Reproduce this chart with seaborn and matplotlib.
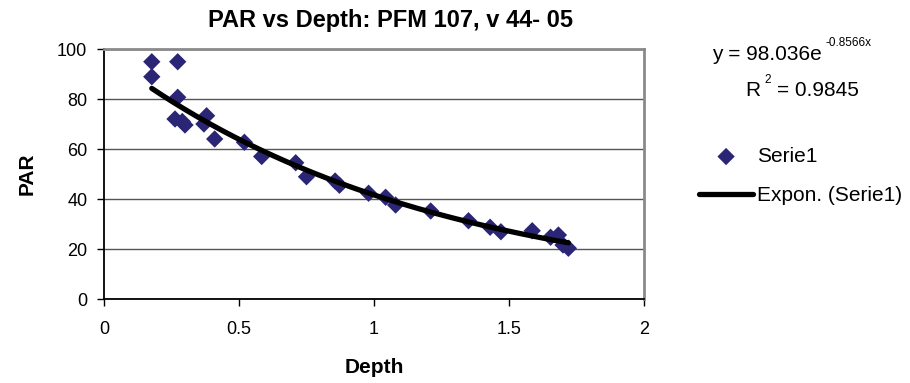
import matplotlib
matplotlib.use("Agg")
import matplotlib.pyplot as plt
import seaborn as sns
import numpy as np
import pandas as pd

# ---- data ----
depth = [0.177, 0.177, 0.273, 0.273, 0.263, 0.29, 0.30, 0.37, 0.38, 0.41,
         0.52, 0.584, 0.71, 0.75, 0.856, 0.872, 0.98, 1.043, 1.08, 1.21,
         1.35, 1.43, 1.47, 1.586, 1.654, 1.683, 1.70, 1.72]
par = [94.9, 88.9, 94.9, 80.7, 72.0, 71.0, 69.6, 70.0, 73.3, 64.0,
       62.7, 57.0, 54.5, 48.9, 47.2, 45.5, 42.3, 40.7, 37.6, 35.2,
       31.3, 28.7, 26.9, 27.3, 24.7, 25.6, 21.6, 20.3]
fit_a = 98.036
fit_b = -0.8566
r2 = 0.9845
x_ticks = [0, 0.5, 1, 1.5, 2]
x_tick_labels = ["0", "0.5", "1", "1.5", "2"]
y_ticks = [0, 20, 40, 60, 80, 100]
title = "PAR vs Depth: PFM 107, v 44- 05"
series_label = "Serie1"
trend_label = "Expon. (Serie1)"

sns.set_style("white")
plt.rcParams["font.family"] = ["Liberation Sans", "DejaVu Sans"]
plt.rcParams["text.color"] = "black"
plt.rcParams["axes.labelcolor"] = "black"
plt.rcParams["xtick.color"] = "black"
plt.rcParams["ytick.color"] = "black"

W, H = 910, 383
fig = plt.figure(figsize=(W / 100, H / 100), dpi=100)
ax = fig.add_axes([104 / W, 1 - 299 / H, (644 - 104) / W, (299 - 49) / H])

df = pd.DataFrame({"Depth": depth, "PAR": par})
xs = np.linspace(min(depth), max(depth), 200)
trend = pd.DataFrame({"Depth": xs, "PAR": fit_a * np.exp(fit_b * xs)})

navy = "#2b2575"
sns.scatterplot(data=df, x="Depth", y="PAR", marker="D", s=78, color=navy,
                edgecolor="none", label=series_label, ax=ax, zorder=3)
sns.lineplot(data=trend, x="Depth", y="PAR", color="black", linewidth=3.8,
             label=trend_label, ax=ax, zorder=4)

ax.set_xlim(0, 2)
ax.set_ylim(0, 100)
ax.set_xticks(x_ticks)
ax.set_xticklabels(x_tick_labels)
ax.set_yticks(y_ticks)
ax.yaxis.grid(True, color="#555555", linewidth=1.0)
ax.xaxis.grid(False)
ax.set_axisbelow(True)

for side in ["left", "bottom"]:
    ax.spines[side].set_color("black")
    ax.spines[side].set_linewidth(1.3)
for side in ["top", "right"]:
    ax.spines[side].set_visible(True)
    ax.spines[side].set_color("#8a8a8a")
    ax.spines[side].set_linewidth(2.0)

ax.tick_params(axis="both", direction="out", length=5, width=1, color="black",
               labelsize=13, labelcolor="black", left=True, bottom=True)
ax.tick_params(axis="y", pad=7)
ax.tick_params(axis="x", pad=11)

ax.set_xlabel("Depth", fontsize=15, fontweight="bold", labelpad=14, color="black")
ax.set_ylabel("PAR", fontsize=15, fontweight="bold", labelpad=15, color="black")

fig.text(390 / W, 1 - 21 / H, title, fontsize=17, fontweight="bold",
         ha="center", va="center", color="black")

# equation and R^2
fig.text(712 / W, 1 - 54 / H, f"y = {fit_a}e", fontsize=15, ha="left", va="center")
fig.text(826 / W, 1 - 43 / H, f"{fit_b}x", fontsize=8.5, ha="left", va="center")
fig.text(745 / W, 1 - 91 / H, "R", fontsize=15, ha="left", va="center")
fig.text(764 / W, 1 - 80 / H, "2", fontsize=8.5, ha="left", va="center")
fig.text(777 / W, 1 - 91 / H, f"= {r2}", fontsize=15, ha="left", va="center")

leg = ax.legend(loc="upper left", bbox_to_anchor=(699 / W, 1 - 147 / H),
                bbox_transform=fig.transFigure, frameon=False, fontsize=15,
                borderpad=0, handlelength=2.6, handletextpad=0.2,
                labelspacing=0.95, borderaxespad=0)
for t in leg.get_texts():
    t.set_color("black")

fig.savefig("out.png", dpi=100)
